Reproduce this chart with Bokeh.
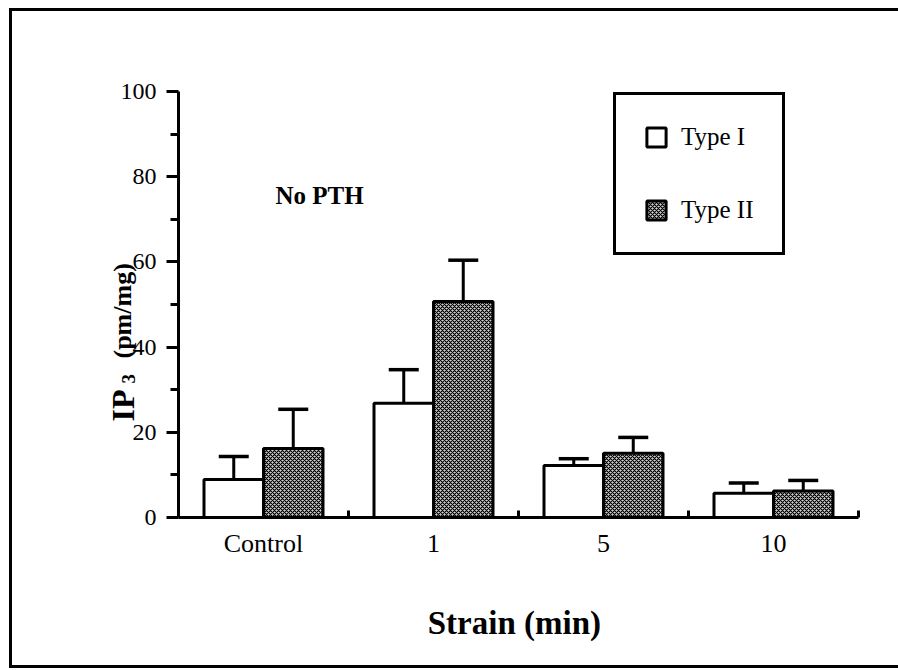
import math
from bokeh.plotting import figure
from bokeh.models import (Range1d, FixedTicker, Label, Legend, LegendItem, Whisker,
                          TeeHead, ColumnDataSource, BoxAnnotation)
from bokeh.embed import file_html
from bokeh.resources import INLINE

# ---- data ----
categories = ["Control", "1", "5", "10"]
series_names = ["Type I", "Type II"]
type1_mean = [8.9, 26.8, 12.2, 5.7]
type1_sem = [5.4, 7.9, 1.6, 2.4]
type2_mean = [16.2, 50.7, 15.1, 6.2]
type2_sem = [9.2, 9.7, 3.7, 2.5]
y_ticks = [0, 20, 40, 60, 80, 100]
y_minor_ticks = [10, 30, 50, 70, 90]

FONT = "Liberation Serif"
BAR_W = 0.35
W, H = 898, 670

# pixel layout of the axes box inside the page
AX_L, AX_R, AX_T, AX_B = 178, 858, 91, 517
n = len(categories)
ymax = y_ticks[-1]
px_x = (AX_R - AX_L) / n
px_y = (AX_B - AX_T) / ymax

centers = [i + 0.5 for i in range(n)]
x1 = [c - BAR_W / 2 for c in centers]
x2 = [c + BAR_W / 2 for c in centers]

p = figure(width=W, height=H, output_backend="svg", toolbar_location=None,
           x_range=Range1d(-AX_L / px_x, n + (W - AX_R) / px_x),
           y_range=Range1d(-(H - AX_B) / px_y, ymax + AX_T / px_y),
           min_border=0)
p.outline_line_color = None
p.grid.visible = False
p.background_fill_color = "white"
p.border_fill_color = "white"

src1 = ColumnDataSource(dict(x=x1, top=type1_mean,
                             upper=[m + s for m, s in zip(type1_mean, type1_sem)]))
src2 = ColumnDataSource(dict(x=x2, top=type2_mean,
                             upper=[m + s for m, s in zip(type2_mean, type2_sem)]))

for src in (src1, src2):
    w = Whisker(base="x", lower="top", upper="upper", source=src, dimension="height",
                line_color="black", line_width=3,
                upper_head=TeeHead(size=30, line_color="black", line_width=3.5),
                lower_head=None)
    p.add_layout(w)

r1 = p.vbar(x="x", top="top", bottom=0, width=BAR_W, source=src1,
            fill_color="white", line_color="black", line_width=3)
r2 = p.vbar(x="x", top="top", bottom=0, width=BAR_W, source=src2,
            fill_color="#d4d4d4", line_color="black", line_width=3,
            hatch_pattern="diagonal_cross", hatch_color="black",
            hatch_scale=4, hatch_weight=1.2)

# ---- axes (drawn at fixed data locations inside the page) ----
xa = p.xaxis[0]
xa.fixed_location = 0
xa.bounds = (0, n)
xa.ticker = FixedTicker(ticks=centers, minor_ticks=list(range(1, n + 1)))
xa.major_label_overrides = {c: cat for c, cat in zip(centers, categories)}
xa.major_tick_in = 0
xa.major_tick_out = 0
xa.minor_tick_in = 7
xa.minor_tick_out = 0
xa.minor_tick_line_width = 3
xa.axis_line_width = 3
xa.major_label_standoff = 11
xa.major_label_text_font = FONT
xa.major_label_text_font_size = "26px"
xa.major_label_text_color = "black"
xa.axis_label = "Strain  (min)"
xa.axis_label_text_font = FONT
xa.axis_label_text_font_style = "bold"
xa.axis_label_text_font_size = "33px"
xa.axis_label_text_color = "black"
xa.axis_label_standoff = 44

ya = p.yaxis[0]
ya.fixed_location = 0
ya.bounds = (0, ymax)
ya.ticker = FixedTicker(ticks=y_ticks, minor_ticks=y_minor_ticks)
ya.major_tick_in = 0
ya.major_tick_out = 12
ya.minor_tick_in = 0
ya.minor_tick_out = 8
ya.major_tick_line_width = 3
ya.minor_tick_line_width = 3
ya.axis_line_width = 3
ya.major_label_standoff = 10
ya.major_label_text_font = FONT
ya.major_label_text_font_size = "24px"
ya.major_label_text_color = "black"

# ---- y axis title: IP3 (pm/mg), rotated ----
for txt, x, y, size in (("IP", 122, H - 421, "32px"), ("3", 128, H - 383, "19px"),
                        ("(pm/mg)", 122, H - 358, "26px")):
    p.add_layout(Label(x=x, y=y, x_units="screen", y_units="screen", text=txt,
                       angle=math.pi / 2, text_font=FONT, text_font_style="bold",
                       text_font_size=size, text_color="black",
                       text_align="left", text_baseline="alphabetic"))

# ---- annotation ----
p.add_layout(Label(x=275, y=H - 195, x_units="screen", y_units="screen", text="No  PTH",
                   text_font=FONT, text_font_style="bold", text_font_size="25px",
                   text_color="black", text_align="left", text_baseline="alphabetic"))

# ---- legend ----
legend = Legend(items=[LegendItem(label=series_names[0], renderers=[r1]),
                       LegendItem(label=series_names[1], renderers=[r2])],
                location=(613, H - 255), margin=0, padding=28, spacing=45,
                glyph_width=24, glyph_height=24, label_height=24, label_standoff=13,
                label_text_font=FONT, label_text_font_size="25px",
                label_text_color="black", border_line_color="black",
                border_line_alpha=1.0, border_line_width=3,
                background_fill_color="white", background_fill_alpha=1.0)
p.add_layout(legend)

# ---- outer page frame: thin filled strips on the left, top and bottom ----
PL, PT, PB, T = 10, 9, 666, 1.5
for l, r, t, b in ((PL - T, PL + T, H - PT + T, H - PB - T),
                   (PL - T, W + 10, H - PT + T, H - PT - T),
                   (PL - T, W + 10, H - PB + T, H - PB - T)):
    p.add_layout(BoxAnnotation(left=l, right=r, top=t, bottom=b,
                               left_units="screen", right_units="screen",
                               top_units="screen", bottom_units="screen",
                               fill_color="black", fill_alpha=1.0,
                               line_color=None, level="overlay"))

open("out.html", "w").write(file_html(p, INLINE))
